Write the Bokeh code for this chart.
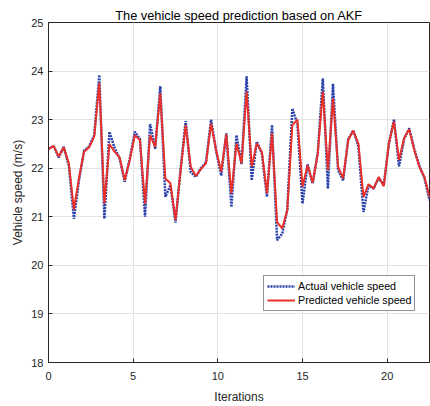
from bokeh.plotting import figure
from bokeh.models import Range1d, FixedTicker, Legend, LegendItem
from bokeh.embed import file_html
from bokeh.resources import INLINE

iterations = [0.0, 0.3, 0.6, 0.9, 1.2, 1.5, 1.8, 2.1, 2.4, 2.7,
              3.0, 3.3, 3.6, 3.9, 4.2, 4.5, 4.8, 5.1, 5.4, 5.7,
              6.0, 6.3, 6.6, 6.9, 7.2, 7.5, 7.8, 8.1, 8.4, 8.7,
              9.0, 9.3, 9.6, 9.9, 10.2, 10.5, 10.8, 11.1, 11.4, 11.7,
              12.0, 12.3, 12.6, 12.9, 13.2, 13.5, 13.8, 14.1, 14.4, 14.7,
              15.0, 15.3, 15.6, 15.9, 16.2, 16.5, 16.8, 17.1, 17.4, 17.7,
              18.0, 18.3, 18.6, 18.9, 19.2, 19.5, 19.8, 20.1, 20.4, 20.7,
              21.0, 21.3, 21.6, 21.9, 22.2, 22.5]

actual_speed = [22.40, 22.46, 22.22, 22.44, 22.05, 20.96, 21.75, 22.36, 22.45, 22.68,
                23.92, 20.96, 22.75, 22.42, 22.20, 21.72, 22.20, 22.75, 22.60, 21.00,
                22.91, 22.40, 23.69, 21.41, 21.65, 20.88, 21.98, 22.97, 21.92, 21.82,
                22.00, 22.12, 23.00, 22.35, 21.85, 22.72, 21.20, 22.68, 22.08, 23.89,
                21.75, 22.55, 22.30, 21.41, 22.89, 20.52, 20.65, 21.15, 23.23, 22.91,
                21.27, 22.08, 21.68, 22.32, 23.85, 21.58, 23.74, 21.96, 21.75, 22.60,
                22.78, 22.45, 21.10, 21.65, 21.58, 21.80, 21.65, 22.50, 23.00, 22.04,
                22.60, 22.82, 22.40, 22.05, 21.80, 21.34]

predicted_speed = [22.39, 22.46, 22.24, 22.43, 22.10, 21.15, 21.80, 22.34, 22.43, 22.65,
                   23.76, 21.27, 22.50, 22.34, 22.22, 21.75, 22.17, 22.68, 22.58, 21.27,
                   22.68, 22.44, 23.54, 21.79, 21.69, 20.93, 21.95, 22.89, 22.03, 21.84,
                   21.98, 22.10, 22.92, 22.37, 21.93, 22.70, 21.48, 22.51, 22.10, 23.58,
                   22.03, 22.51, 22.34, 21.48, 22.72, 20.89, 20.76, 21.13, 22.89, 23.00,
                   21.62, 22.06, 21.70, 22.30, 23.58, 21.96, 23.44, 22.03, 21.79, 22.58,
                   22.77, 22.51, 21.41, 21.67, 21.58, 21.82, 21.63, 22.51, 22.96, 22.17,
                   22.62, 22.80, 22.37, 22.03, 21.82, 21.41]

x_ticks = [0, 5, 10, 15, 20]
y_ticks = [18, 19, 20, 21, 22, 23, 24, 25]

FONT = "Liberation Sans"
AX = "#262626"

p = figure(width=430, height=406, output_backend="svg", toolbar_location=None,
           x_range=Range1d(0, 22.5), y_range=Range1d(18, 25),
           min_border_left=48, min_border_right=1, min_border_top=22,
           min_border_bottom=44, x_axis_label="Iterations",
           y_axis_label="Vehicle speed (m/s)",
           title="The vehicle speed prediction based on AKF")

p.title.align = "center"
p.title.text_font = FONT
p.title.text_font_size = "12.8px"
p.title.text_font_style = "normal"
p.title.text_color = "#000000"
p.title.standoff = 0
p.title.offset = 0

p.outline_line_color = AX
p.outline_line_width = 1
p.background_fill_color = "white"
p.border_fill_color = "white"

for ax in (p.xaxis[0], p.yaxis[0]):
    ax.axis_line_color = AX
    ax.major_tick_line_color = AX
    ax.major_tick_in = 4
    ax.major_tick_out = 0
    ax.minor_tick_line_color = None
    ax.major_label_text_font = FONT
    ax.major_label_text_font_size = "11px"
    ax.major_label_text_color = "#262626"
    ax.axis_label_text_font = FONT
    ax.axis_label_text_font_size = "12px"
    ax.axis_label_text_font_style = "normal"
    ax.axis_label_text_color = "#262626"

p.xaxis[0].ticker = FixedTicker(ticks=x_ticks)
p.yaxis[0].ticker = FixedTicker(ticks=y_ticks)
p.xaxis[0].major_label_standoff = 9
p.xaxis[0].axis_label_standoff = 7
p.yaxis[0].major_label_standoff = 5
p.yaxis[0].axis_label_standoff = 3

p.xgrid.ticker = FixedTicker(ticks=x_ticks)
p.ygrid.ticker = FixedTicker(ticks=y_ticks)
p.xgrid.grid_line_color = "#e3e3e3"
p.ygrid.grid_line_color = "#e3e3e3"

r_act = p.line(iterations, actual_speed, line_color="#2840a8", line_width=2.5,
               line_dash="2 1")
r_pred = p.line(iterations, predicted_speed, line_color="#e8302a", line_width=2)

legend = Legend(items=[LegendItem(label="Actual vehicle speed", renderers=[r_act]),
                       LegendItem(label="Predicted vehicle speed", renderers=[r_pred])],
                location=(215, 51))
legend.label_text_font = FONT
legend.label_text_font_size = "10.7px"
legend.label_text_color = "#000000"
legend.border_line_color = AX
legend.border_line_width = 1
legend.background_fill_alpha = 1
legend.padding = 3
legend.spacing = 0
legend.glyph_width = 28
legend.glyph_height = 14
legend.label_height = 14
legend.label_standoff = 3
legend.margin = 0
p.add_layout(legend, "center")

open("out.html", "w").write(file_html(p, INLINE))
